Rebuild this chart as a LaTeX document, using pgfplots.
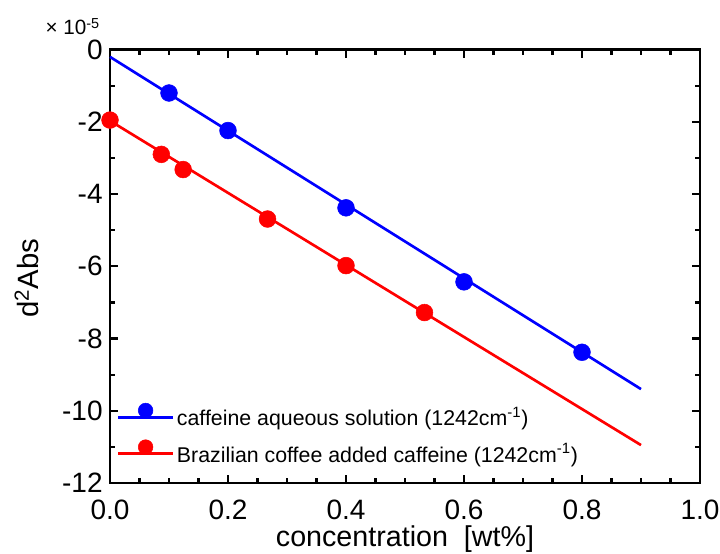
\documentclass[border=0pt]{standalone}
\usepackage{pgfplots}
\pgfplotsset{compat=1.18}
\usepackage{fontspec}
\setmainfont{Liberation Sans}

\begin{document}
\begin{tikzpicture}
% page frame to keep the reference proportions (720x553 px)
\path[use as bounding box] (0pt,0pt) rectangle (540pt,414.75pt);
\begin{axis}[
  at={(82.5pt,52.5pt)}, anchor=south west,
  scale only axis,
  width=442.5pt, height=325pt,
  xmin=0, xmax=1.0, ymin=-12, ymax=0,
  xtick={0,0.2,0.4,0.6,0.8,1.0},
  xticklabels={0.0,0.2,0.4,0.6,0.8,1.0},
  ytick={-12,-10,-8,-6,-4,-2,0},
  yticklabels={-12,-10,-8,-6,-4,-2,0},
  minor x tick num=3,
  minor y tick num=1,
  tick align=inside,
  major tick length=6pt,
  minor tick length=4pt,
  every tick/.style={black, line width=1.6pt},
  axis line style={line width=2pt},
  tick label style={font=\fontsize{21}{23}\selectfont},
  xticklabel style={yshift=-9pt},
  yticklabel style={xshift=-2pt},
  xlabel={concentration\ \ [wt\%]},
  ylabel={d\textsuperscript{2}Abs},
  xlabel style={font=\fontsize{21.5}{23}\selectfont,
    at={(axis description cs:0.5,-0.13)}, anchor=center},
  ylabel style={font=\fontsize{22}{24}\selectfont,
    at={(axis description cs:-0.141,0.473)}, anchor=center},
  legend style={draw=none, fill=none, at={(axis description cs:0,0)},
    anchor=south west, xshift=2pt, yshift=10pt,
    font=\fontsize{16}{18}\selectfont, row sep=7pt,
    /tikz/every even column/.append style={column sep=5pt}},
  legend cell align=left,
  clip=false,
]
% fitted lines
\addplot[blue, line width=2pt, forget plot] coordinates {(0,-0.2) (0.9,-9.4)};
\addplot[red, line width=2pt, forget plot] coordinates {(0,-1.97) (0.9,-10.95)};
% measured points
\addplot[only marks, mark=*, mark size=6.3pt, blue, forget plot] coordinates {
  (0.1,-1.2) (0.2,-2.24) (0.4,-4.38) (0.6,-6.43) (0.8,-8.38)
};
\addplot[only marks, mark=*, mark size=6.3pt, red, forget plot] coordinates {
  (0,-1.95) (0.087,-2.9) (0.124,-3.32) (0.267,-4.69) (0.4,-5.98) (0.533,-7.28)
};
\addlegendimage{legend image code/.code={
  \draw[blue, line width=2pt] (0pt,0pt) -- (41pt,0pt);
  \fill[blue] (20.5pt,5pt) circle (5.5pt);}}
\addlegendentry{caffeine aqueous solution (1242cm\textsuperscript{-1})}
\addlegendimage{legend image code/.code={
  \draw[red, line width=2pt] (0pt,0pt) -- (41pt,0pt);
  \fill[red] (20.5pt,5pt) circle (5.5pt);}}
\addlegendentry{Brazilian coffee added caffeine (1242cm\textsuperscript{-1})}
\end{axis}
\node[anchor=base west, inner sep=0pt, font=\fontsize{15.5}{17}\selectfont] at (34pt,388.5pt) {× 10\textsuperscript{-5}};
\end{tikzpicture}
\end{document}
